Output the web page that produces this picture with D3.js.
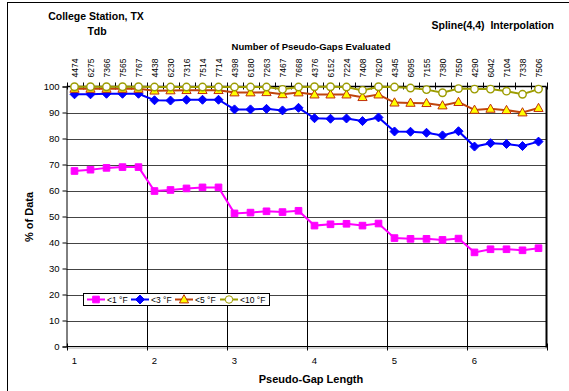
<!DOCTYPE html>
<html>
<head>
<meta charset="utf-8">
<script src="https://cdn.jsdelivr.net/npm/d3@7/dist/d3.min.js"></script>
<style>
  html, body { margin: 0; padding: 0; background: #fff; }
  svg { display: block; font-family: Arial, "Liberation Sans", sans-serif; }
</style>
</head>
<body>
<svg id="chart" width="569" height="391"></svg>
<script>
// Pseudo-gap counts evaluated at each point (top axis)
const gapCounts = [4474, 6275, 7366, 7565, 7767, 4438, 6230, 7316, 7514, 7714,
                   4398, 6180, 7263, 7467, 7668, 4376, 6152, 7224, 7408, 7620,
                   4345, 6095, 7155, 7380, 7550, 4290, 6042, 7104, 7338, 7506];
// Pseudo-gap length labels, one per group of five points
const gapLengths = ["1", "2", "3", "4", "5", "6"];
const pointsPerGap = 5;

// % of data within tolerance
const within1F = [67.5, 68.0, 68.7, 69.0, 69.0, 59.8, 60.2, 60.8, 61.2, 61.2,
                  51.2, 51.5, 52.0, 51.7, 52.2, 46.5, 47.0, 47.2, 46.5, 47.3,
                  41.7, 41.4, 41.4, 41.0, 41.5, 36.2, 37.4, 37.4, 37.0, 37.8];
const within3F = [97.0, 97.0, 97.2, 97.2, 97.2, 94.7, 94.6, 94.9, 94.9, 94.9,
                  91.2, 91.2, 91.4, 90.8, 91.8, 87.8, 87.6, 87.7, 86.7, 88.1,
                  82.7, 82.6, 82.2, 81.2, 82.8, 76.9, 78.2, 77.9, 77.1, 78.8];
const within5F = [99.1, 99.1, 99.1, 99.1, 99.1, 98.4, 98.5, 98.6, 98.6, 98.6,
                  97.7, 97.7, 97.8, 97.0, 97.7, 96.9, 96.9, 96.9, 95.9, 96.9,
                  93.8, 93.7, 93.6, 92.7, 94.0, 91.0, 91.4, 90.9, 90.0, 91.7];
const within10F = [99.9, 99.9, 99.9, 99.9, 99.9, 99.8, 99.8, 99.8, 99.8, 99.8,
                   99.8, 99.8, 99.8, 98.9, 99.8, 99.9, 99.9, 99.8, 98.5, 99.9,
                   99.8, 99.4, 98.8, 97.6, 99.2, 99.0, 99.0, 98.2, 97.0, 99.0];

const seriesNames = ["<1 °F", "<3 °F", "<5 °F", "<10 °F"];
const yTicks = [0, 10, 20, 30, 40, 50, 60, 70, 80, 90, 100];

const series = [
  { name: seriesNames[0], values: within1F,  line: "#ff00ff", marker: "square",   fill: "#ff00ff", stroke: "#ff00ff" },
  { name: seriesNames[1], values: within3F,  line: "#0000ff", marker: "diamond",  fill: "#0000ff", stroke: "#0000ff" },
  { name: seriesNames[2], values: within5F,  line: "#c0440c", marker: "triangle", fill: "#ffff00", stroke: "#c0300c" },
  { name: seriesNames[3], values: within10F, line: "#9c9c00", marker: "circle",   fill: "#ffffff", stroke: "#9c9c00" }
];

const svg = d3.select("#chart");
const W = 569, H = 391;
const plot = { left: 66.5, right: 546.5, top: 86.5, bottom: 346.5 };

svg.append("rect").attr("width", W).attr("height", H).attr("fill", "#fff");
// outer frame
svg.append("rect").attr("x", 7.5).attr("y", 2.5).attr("width", 620).attr("height", 420)
  .attr("fill", "none").attr("stroke", "#000").attr("stroke-width", 1);

const idx = d3.range(gapCounts.length);
const x = d3.scaleBand().domain(idx).range([plot.left, plot.right]).paddingInner(0).paddingOuter(0);
const cx = i => x(i) + x.bandwidth() / 2;
const y = d3.scaleLinear().domain([0, 100]).range([plot.bottom, plot.top]);

// horizontal gridlines
svg.append("g").selectAll("line").data(yTicks.filter(t => t > 0 && t < 100)).join("line")
  .attr("x1", plot.left).attr("x2", plot.right)
  .attr("y1", d => Math.round(y(d)) + 0.5).attr("y2", d => Math.round(y(d)) + 0.5)
  .attr("stroke", "#444").attr("stroke-width", 1);

// vertical gridlines between gap-length groups
const groupStarts = d3.range(pointsPerGap, gapCounts.length, pointsPerGap);
svg.append("g").selectAll("line").data(groupStarts).join("line")
  .attr("x1", d => Math.round(x(d)) + 0.5).attr("x2", d => Math.round(x(d)) + 0.5)
  .attr("y1", plot.top).attr("y2", plot.bottom)
  .attr("stroke", "#000").attr("stroke-width", 1);

// plot frame: bottom shadow, right edge
svg.append("line").attr("x1", plot.left).attr("x2", plot.right + 1)
  .attr("y1", plot.bottom + 1.5).attr("y2", plot.bottom + 1.5).attr("stroke", "#aaa");
svg.append("line").attr("x1", plot.right).attr("x2", plot.right)
  .attr("y1", plot.top).attr("y2", plot.bottom + 1).attr("stroke", "#000").attr("stroke-width", 2);

// left axis
const yAxis = d3.axisLeft(y).tickValues(yTicks).tickSize(4).tickPadding(3);
const gy = svg.append("g").attr("transform", `translate(${plot.left},0)`).call(yAxis);
gy.select(".domain").attr("stroke", "#000");
gy.selectAll(".tick line").attr("stroke", "#000");
gy.selectAll(".tick text").attr("font-size", 9.5).attr("fill", "#000")
  .attr("font-family", "Arial, 'Liberation Sans', sans-serif");

// bottom axis: labels at first point of each group, ticks at group boundaries
const gb = svg.append("g").attr("transform", `translate(0,${plot.bottom})`);
gb.append("line").attr("x1", plot.left).attr("x2", plot.right).attr("stroke", "#000");
const boundaries = d3.range(0, gapCounts.length + 1, pointsPerGap);
gb.selectAll("line.tk").data(boundaries).join("line").attr("class", "tk")
  .attr("x1", d => Math.round(d < gapCounts.length ? x(d) : plot.right) + 0.5)
  .attr("x2", d => Math.round(d < gapCounts.length ? x(d) : plot.right) + 0.5)
  .attr("y1", -3).attr("y2", 4).attr("stroke", "#000");
gb.selectAll("text").data(gapLengths).join("text")
  .attr("x", (d, i) => cx(i * pointsPerGap)).attr("y", 17)
  .attr("text-anchor", "middle").attr("font-size", 9.5).text(d => d);

// top axis: pseudo-gap counts at each point
const gt = svg.append("g").attr("transform", `translate(0,${plot.top})`);
gt.append("line").attr("x1", plot.left).attr("x2", plot.right).attr("stroke", "#000").attr("stroke-width", 1.5);
gt.selectAll("line.tk").data(d3.range(gapCounts.length + 1)).join("line").attr("class", "tk")
  .attr("x1", d => Math.round(d < gapCounts.length ? x(d) : plot.right) + 0.5)
  .attr("x2", d => Math.round(d < gapCounts.length ? x(d) : plot.right) + 0.5)
  .attr("y1", -4).attr("y2", 3).attr("stroke", "#000");
gt.selectAll("text").data(gapCounts).join("text")
  .attr("transform", (d, i) => `translate(${cx(i) + 3},-9) rotate(-90)`)
  .attr("font-size", 8.5).attr("text-anchor", "start").text(d => d);

// series lines and markers
const line = d3.line().x((d, i) => cx(i)).y(d => y(d));
const markerPath = (type) => {
  if (type === "square") return d3.symbol(d3.symbolSquare, 44)();
  if (type === "diamond") return "M0,-4.5L4.5,0L0,4.5L-4.5,0Z";
  if (type === "triangle") return "M0,-4.8L4.6,3.4L-4.6,3.4Z";
  return d3.symbol(d3.symbolCircle, 44)();
};
series.forEach(s => {
  const g = svg.append("g");
  g.append("path").datum(s.values).attr("d", line)
    .attr("fill", "none").attr("stroke", s.line).attr("stroke-width", 2);
  g.selectAll("path.m").data(s.values).join("path").attr("class", "m")
    .attr("transform", (d, i) => `translate(${cx(i)},${y(d)})`)
    .attr("d", markerPath(s.marker))
    .attr("fill", s.fill).attr("stroke", s.stroke).attr("stroke-width", s.marker === "circle" ? 1.4 : 1);
});

// legend
const lg = svg.append("g");
lg.append("rect").attr("x", 83.5).attr("y", 293.5).attr("width", 186).attr("height", 12)
  .attr("fill", "#fff").attr("stroke", "#000");
const legendItems = [
  { s: series[0], x0: 87 }, { s: series[1], x0: 131 }, { s: series[2], x0: 175 }, { s: series[3], x0: 220 }
];
legendItems.forEach(({ s, x0 }) => {
  lg.append("line").attr("x1", x0).attr("x2", x0 + 18).attr("y1", 299.5).attr("y2", 299.5)
    .attr("stroke", s.line).attr("stroke-width", 2);
  lg.append("path").attr("transform", `translate(${x0 + 9},299.5)`)
    .attr("d", markerPath(s.marker)).attr("fill", s.fill).attr("stroke", s.stroke);
  lg.append("text").attr("x", x0 + 20).attr("y", 302.8).attr("font-size", 8.5).text(s.name);
});

// titles
svg.append("text").attr("x", 96).attr("y", 20).attr("text-anchor", "middle")
  .attr("font-weight", "bold").attr("font-size", 10.5).text("College Station, TX");
svg.append("text").attr("x", 97).attr("y", 35).attr("text-anchor", "middle")
  .attr("font-weight", "bold").attr("font-size", 10.5).text("Tdb");
svg.append("text").attr("x", 554).attr("y", 29).attr("text-anchor", "end")
  .attr("font-weight", "bold").attr("font-size", 10.5).attr("xml:space", "preserve")
  .text("Spline(4,4)  Interpolation");
svg.append("text").attr("x", 311).attr("y", 50).attr("text-anchor", "middle")
  .attr("font-weight", "bold").attr("font-size", 9.5).text("Number of Pseudo-Gaps Evaluated");
svg.append("text").attr("x", 311).attr("y", 383).attr("text-anchor", "middle")
  .attr("font-weight", "bold").attr("font-size", 11).text("Pseudo-Gap Length");
svg.append("text").attr("transform", "translate(33,217) rotate(-90)").attr("text-anchor", "middle")
  .attr("font-weight", "bold").attr("font-size", 11).text("% of Data");
</script>
</body>
</html>
